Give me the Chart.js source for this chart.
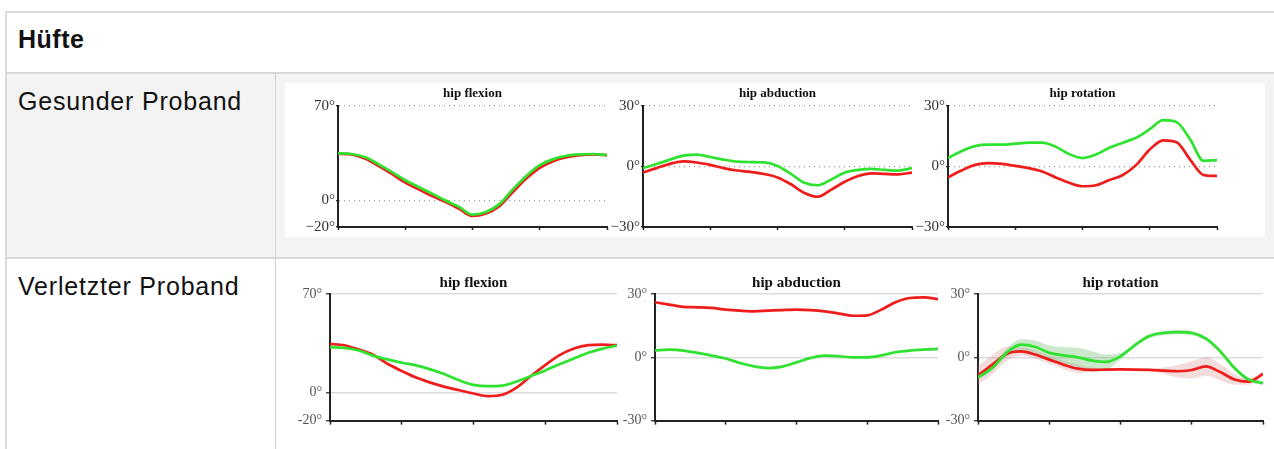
<!DOCTYPE html>
<html>
<head>
<meta charset="utf-8">
<script src="https://cdn.jsdelivr.net/npm/chart.js@4"></script>
<style>
  body { margin: 0; width: 1274px; height: 449px; overflow: hidden; background: #fff; position: relative; font-family: "Liberation Sans", Arial, sans-serif; }
  .abs { position: absolute; }
  .line { position: absolute; background: #dadada; }
  .label { position: absolute; left: 18px; font-size: 25px; line-height: 25px; color: #111; letter-spacing: 0.8px; white-space: nowrap; }
  .panel { position: absolute; }
</style>
</head>
<body>
<!-- table -->
<div class="abs" style="left:6px;top:73px;width:1268px;height:185px;background:#f3f3f3"></div>
<div class="abs" style="left:285px;top:83px;width:980px;height:154px;background:#fff"></div>
<div class="line" style="left:5px;top:11px;width:1269px;height:2px"></div>
<div class="line" style="left:5px;top:11px;width:2px;height:438px"></div>
<div class="line" style="left:5px;top:72px;width:1269px;height:2px"></div>
<div class="line" style="left:5px;top:257px;width:1269px;height:2px"></div>
<div class="line" style="left:275px;top:73px;width:1px;height:376px;background:#d0d0d0"></div>

<div class="label" style="top:27px;font-weight:bold;letter-spacing:0.5px">Hüfte</div>
<div class="label" style="top:89px">Gesunder Proband</div>
<div class="label" style="top:274px">Verletzter Proband</div>

<div class="panel" id="p1"><canvas id="c1"></canvas></div>
<div class="panel" id="p2"><canvas id="c2"></canvas></div>
<div class="panel" id="p3"><canvas id="c3"></canvas></div>
<div class="panel" id="p4"><canvas id="c4"></canvas></div>
<div class="panel" id="p5"><canvas id="c5"></canvas></div>
<div class="panel" id="p6"><canvas id="c6"></canvas></div>

<script>
// -- DATA -- //
// x = % of gait cycle
const pct = [0, 5, 10, 15, 20, 25, 30, 35, 40, 45, 50, 55, 60, 65, 70, 75, 80, 85, 90, 95, 100]
const xTicks = [0, 25, 50, 75, 100]
const flexTicks = [-20, 0, 70]
const abdTicks = [-30, 0, 30]
const rotTicks = [-30, 0, 30]

// Gesunder Proband
const flexHealthyGreen = [34.8, 34.3, 32.0, 26.8, 21.0, 14.8, 9.8, 4.8, -0.3, -5.0, -10.8, -8.8, -3.0, 8.0, 18.0, 26.0, 30.5, 33.0, 34.0, 34.3, 33.5]
const flexHealthyRed = [34.5, 34.0, 31.0, 25.5, 19.5, 13.0, 8.0, 3.0, -1.5, -6.5, -11.8, -10.0, -4.5, 6.0, 16.0, 24.0, 29.0, 32.0, 33.5, 34.0, 33.5]
const abdHealthyGreen = [-0.8, 1.2, 3.4, 5.4, 5.9, 4.7, 3.4, 2.4, 2.2, 2.0, 0.3, -3.7, -8.1, -9.3, -6.4, -3.0, -1.7, -1.2, -1.7, -2.0, -0.8]
const abdHealthyRed = [-3.0, -0.8, 1.3, 2.5, 2.0, 0.8, -0.8, -2.0, -2.7, -3.7, -5.4, -8.8, -13.1, -15.0, -11.5, -7.6, -4.7, -3.4, -3.7, -3.9, -3.0]
const rotHealthyGreen = [4.2, 7.6, 10.1, 10.8, 10.8, 11.3, 11.8, 11.8, 9.8, 6.2, 4.2, 5.9, 9.3, 11.8, 14.3, 18.5, 23.0, 22.0, 13.5, 2.8, 3.2]
const rotHealthyRed = [-5.4, -2.0, 0.8, 1.7, 1.3, 0.3, -0.8, -2.5, -5.4, -8.1, -9.8, -9.3, -6.7, -4.2, 0.8, 8.4, 13.0, 12.0, 3.4, -4.2, -4.7]

// Verletzter Proband
const flexInjuredRed = [34.5, 33.6, 30.5, 26.8, 20.4, 15.3, 10.6, 7.0, 4.0, 1.6, -0.7, -2.6, -1.6, 3.5, 11.7, 19.5, 26.5, 31.2, 33.6, 34.0, 33.6]
const flexInjuredGreen = [32.2, 31.7, 29.8, 26.2, 23.5, 21.1, 19.3, 16.4, 12.9, 8.7, 5.4, 4.5, 4.9, 7.8, 11.7, 15.7, 20.0, 24.2, 28.2, 31.2, 33.4]
const abdInjuredRed = [26.1, 25.0, 23.9, 23.7, 23.4, 22.6, 22.1, 21.8, 22.1, 22.4, 22.6, 22.4, 21.8, 20.7, 19.7, 19.9, 22.6, 26.1, 28.1, 28.4, 27.6]
const abdInjuredGreen = [3.3, 3.6, 3.2, 2.1, 0.8, -0.6, -2.7, -4.3, -5.1, -4.4, -2.4, -0.3, 0.8, 0.5, 0.0, 0.0, 0.9, 2.4, 3.2, 3.6, 4.0]
const rotInjuredGreen = [-9.5, -5.1, 2.1, 6.0, 5.0, 2.1, 0.9, 0.0, -1.6, -2.2, 0.5, 5.7, 10.0, 11.5, 11.9, 11.5, 8.8, 2.8, -5.1, -10.6, -12.2]
const rotInjuredRed = [-8.5, -3.5, 1.6, 2.8, 1.3, -1.1, -3.5, -5.4, -6.0, -5.8, -5.7, -5.8, -6.0, -6.3, -6.6, -6.0, -4.3, -7.0, -10.5, -11.5, -7.9]
const rotInjuredGreenSd = [1.0, 1.0, 2.0, 2.5, 3.0, 3.5, 4.0, 4.5, 4.5, 3.5, 1.5, 1.0, 1.0, 1.0, 1.0, 1.0, 1.0, 1.0, 1.0, 1.0, 1.0]
const rotInjuredRedSd = [4.5, 4.5, 3.5, 2.0, 2.0, 2.0, 2.0, 2.0, 1.0, 0.5, 0.5, 0.5, 0.5, 1.5, 3.0, 4.0, 4.5, 4.0, 2.5, 1.5, 1.0]

const RED = '#ef1c1c'
const GREEN = '#2fe22f'

// -- STYLES -- //
const topStyle = { tickSize: 15, tickColor: '#333', minus: '\u2212', grid: '#9a9a9a', dash: [1, 4], gridWidth: 1.2, titleSize: 13, yw: 44, tickLen: 2, tickPad: 1, xTickLen: 3 }
const botStyle = { tickSize: 14, tickColor: '#555', minus: '-', grid: '#dcdcdc', dash: [], gridWidth: 1.5, titleSize: 15, yw: 48, tickLen: 4, tickPad: 4, xTickLen: 4 }

const panelTitle = {
  id: 'panelTitle',
  afterDraw(chart, args, opts) {
    const { ctx, chartArea } = chart
    ctx.save()
    ctx.font = `bold ${opts.size}px "Liberation Serif", serif`
    ctx.fillStyle = '#111'
    ctx.textAlign = 'center'
    ctx.textBaseline = 'middle'
    ctx.fillText(opts.text, (chartArea.left + chartArea.right) / 2, opts.y)
    ctx.restore()
  }
}

const line = (label, values, color, order) => ({
  label, order,
  data: values.map((v, i) => ({ x: pct[i], y: v })),
  borderColor: color, borderWidth: 2.7, pointRadius: 0,
  cubicInterpolationMode: 'monotone', fill: false
})

const band = (mean, sd, color) => [
  { label: 'lo', order: 5, data: mean.map((v, i) => ({ x: pct[i], y: v - sd[i] })), borderWidth: 0, pointRadius: 0, cubicInterpolationMode: 'monotone', fill: false },
  { label: 'hi', order: 5, data: mean.map((v, i) => ({ x: pct[i], y: v + sd[i] })), borderWidth: 0, pointRadius: 0, cubicInterpolationMode: 'monotone', fill: '-1', backgroundColor: color }
]

// plot box: L, R, T, B, titleY (page px)
const makePanel = (n, box, title, yTicks, green, red, st, extra) => {
  const padTop = 26, padRight = 4, xh = 12
  const div = document.getElementById('p' + n)
  const left = box.L - st.yw, top = box.T - padTop
  div.style.left = left + 'px'
  div.style.top = top + 'px'
  div.style.width = (box.R + padRight - left) + 'px'
  div.style.height = (box.B + xh - top) + 'px'

  const datasets = [line('rechts', green, GREEN, 0), line('links', red, RED, 1)].concat(extra || [])

  new Chart(document.getElementById('c' + n), {
    type: 'line',
    data: { datasets },
    plugins: [panelTitle],
    options: {
      responsive: true,
      maintainAspectRatio: false,
      animation: false,
      events: [],
      layout: { padding: { top: padTop, right: padRight, left: 0, bottom: 0 } },
      plugins: {
        legend: { display: false },
        tooltip: { enabled: false },
        panelTitle: { text: title, size: st.titleSize, y: box.titleY - top }
      },
      scales: {
        x: {
          type: 'linear', min: 0, max: 100,
          afterBuildTicks: s => { s.ticks = xTicks.map(v => ({ value: v })) },
          afterFit: s => { s.height = xh },
          ticks: { display: false },
          grid: { drawOnChartArea: false, drawTicks: true, tickLength: st.xTickLen, tickColor: '#222', tickWidth: 1.5 },
          border: { color: '#222', width: 2 }
        },
        y: {
          min: yTicks[0], max: yTicks[yTicks.length - 1],
          afterBuildTicks: s => { s.ticks = yTicks.map(v => ({ value: v })) },
          afterFit: s => { s.width = st.yw },
          ticks: {
            padding: st.tickPad, color: st.tickColor,
            font: { family: '"Liberation Serif", serif', size: st.tickSize },
            callback: v => (v < 0 ? st.minus + Math.abs(v) : v) + '°'
          },
          grid: {
            color: st.grid, lineWidth: st.gridWidth,
            tickLength: st.tickLen, tickColor: '#222', tickWidth: 1.2, tickBorderDash: []
          },
          border: { color: '#222', width: 2, dash: st.dash }
        }
      }
    }
  })
}

// Gesunder Proband
makePanel(1, { L: 338, R: 607, T: 106, B: 227, titleY: 94 }, 'hip flexion', flexTicks, flexHealthyGreen, flexHealthyRed, topStyle)
makePanel(2, { L: 643, R: 912, T: 106, B: 227, titleY: 94 }, 'hip abduction', abdTicks, abdHealthyGreen, abdHealthyRed, topStyle)
makePanel(3, { L: 948, R: 1217, T: 106, B: 227, titleY: 94 }, 'hip rotation', rotTicks, rotHealthyGreen, rotHealthyRed, topStyle)

// Verletzter Proband
makePanel(4, { L: 330, R: 617, T: 294, B: 421, titleY: 283 }, 'hip flexion', flexTicks, flexInjuredGreen, flexInjuredRed, botStyle)
makePanel(5, { L: 655, R: 938, T: 294, B: 421, titleY: 283 }, 'hip abduction', abdTicks, abdInjuredGreen, abdInjuredRed, botStyle)
makePanel(6, { L: 978, R: 1263, T: 294, B: 421, titleY: 283 }, 'hip rotation', rotTicks, rotInjuredGreen, rotInjuredRed, botStyle,
  band(rotInjuredGreen, rotInjuredGreenSd, 'rgba(110,190,110,0.35)').concat(band(rotInjuredRed, rotInjuredRedSd, 'rgba(215,140,140,0.3)')))
</script>
</body>
</html>
